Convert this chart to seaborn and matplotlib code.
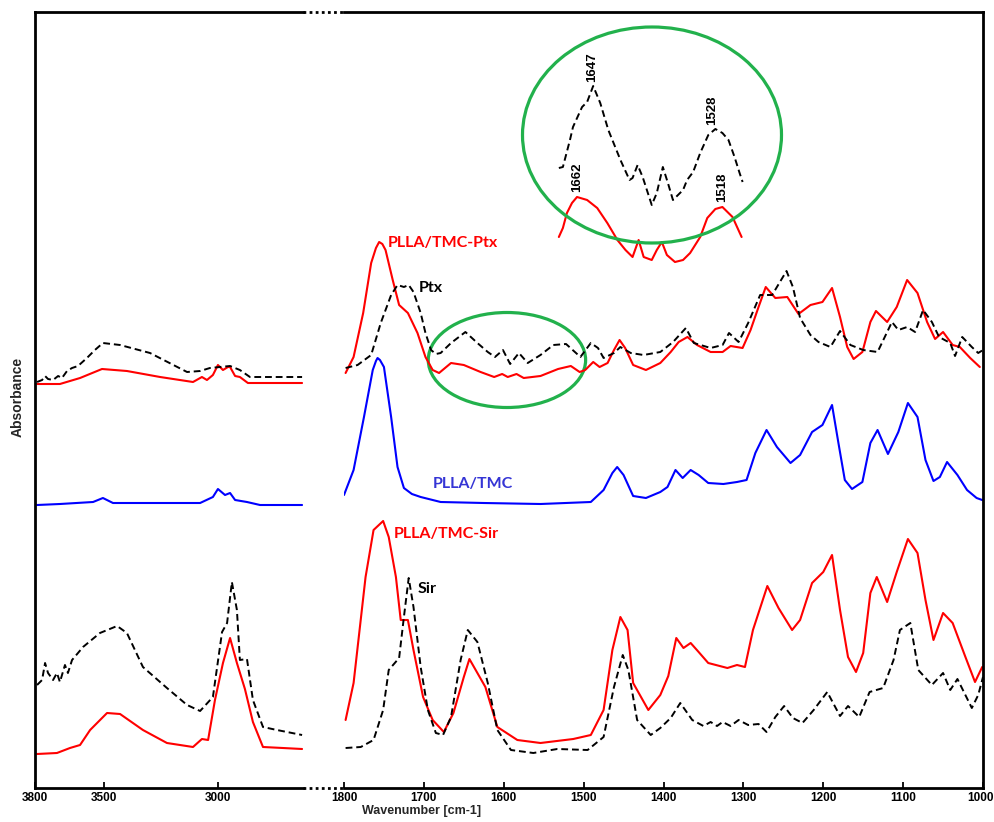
import numpy as np
import pandas as pd
import matplotlib
matplotlib.use("Agg")
import matplotlib.pyplot as plt
import matplotlib.patches as mpatches
import matplotlib.transforms as mtransforms
from matplotlib.lines import Line2D
import seaborn as sns

# ---- high wavenumber region (left panel) ----
ptx_hi_x = [3791, 3769, 3756, 3743, 3721, 3699, 3682, 3660, 3638, 3612, 3573, 3538, 3503, 3428,
            3297, 3135, 3078, 3035, 2991, 2947, 2904, 2860, 2632]
ptx_hi_y = [4.06, 4.08, 4.12, 4.09, 4.08, 4.12, 4.10, 4.17, 4.20, 4.22, 4.30, 4.38, 4.45, 4.43,
            4.35, 4.16, 4.17, 4.20, 4.21, 4.22, 4.18, 4.11, 4.11]
tmc_ptx_hi_x = [3791, 3691, 3603, 3507, 3398, 3253, 3109, 3070, 3048, 3022, 3000, 2978, 2956,
                2947, 2925, 2904, 2869, 2632]
tmc_ptx_hi_y = [4.04, 4.04, 4.10, 4.19, 4.17, 4.11, 4.06, 4.11, 4.08, 4.13, 4.23, 4.18, 4.21,
                4.21, 4.12, 4.11, 4.05, 4.05]
tmc_hi_x = [3791, 3691, 3546, 3503, 3459, 3078, 3022, 3000, 2969, 2947, 2925, 2873, 2816, 2632]
tmc_hi_y = [2.83, 2.84, 2.86, 2.90, 2.85, 2.85, 2.91, 2.99, 2.93, 2.95, 2.88, 2.86, 2.83, 2.83]
sir_hi_x = [3791, 3769, 3756, 3743, 3721, 3704, 3691, 3669, 3656, 3638, 3612, 3590, 3516, 3441,
            3398, 3328, 3223, 3135, 3078, 3022, 2982, 2960, 2939, 2917, 2904, 2873, 2847, 2803,
            2742, 2632]
sir_hi_y = [1.03, 1.08, 1.25, 1.15, 1.08, 1.15, 1.06, 1.23, 1.15, 1.28, 1.35, 1.41, 1.55, 1.62,
            1.55, 1.21, 1.00, 0.83, 0.77, 0.91, 1.56, 1.65, 2.06, 1.78, 1.28, 1.29, 0.88, 0.61,
            0.58, 0.53]
tmc_sir_hi_x = [3791, 3704, 3647, 3603, 3559, 3485, 3428, 3328, 3223, 3109, 3070, 3043, 3013,
                2978, 2947, 2917, 2882, 2847, 2803, 2716, 2632]
tmc_sir_hi_y = [0.34, 0.35, 0.40, 0.43, 0.58, 0.75, 0.74, 0.58, 0.45, 0.41, 0.49, 0.48, 0.88,
                1.25, 1.50, 1.25, 0.99, 0.66, 0.41, 0.40, 0.39]

# ---- fingerprint region (right panel) ----
tmc_ptx_x = [1798, 1788, 1776, 1766, 1760, 1756, 1752, 1748, 1739, 1731, 1720, 1708, 1698, 1689,
             1681, 1666, 1650, 1629, 1612, 1602, 1595, 1584, 1575, 1554, 1532, 1516, 1505, 1498,
             1488, 1480, 1470, 1462, 1455, 1448, 1438, 1422, 1404, 1391, 1381, 1370, 1358, 1341,
             1326, 1316, 1301, 1291, 1281, 1272, 1260, 1245, 1231, 1216, 1201, 1189, 1179, 1170,
             1162, 1151, 1141, 1134, 1120, 1108, 1095, 1082, 1070, 1060, 1050, 1038, 1029, 1016,
             1004]
tmc_ptx_y = [4.15, 4.31, 4.75, 5.25, 5.40, 5.46, 5.44, 5.38, 5.08, 4.83, 4.75, 4.55, 4.31, 4.18,
             4.15, 4.25, 4.23, 4.16, 4.11, 4.14, 4.11, 4.14, 4.10, 4.12, 4.19, 4.22, 4.16, 4.18,
             4.26, 4.21, 4.25, 4.38, 4.48, 4.40, 4.23, 4.18, 4.25, 4.36, 4.46, 4.51, 4.43, 4.36,
             4.36, 4.42, 4.40, 4.58, 4.81, 5.01, 4.90, 4.91, 4.74, 4.83, 4.86, 5.00, 4.71, 4.41,
             4.29, 4.36, 4.66, 4.77, 4.66, 4.81, 5.08, 4.95, 4.66, 4.49, 4.56, 4.43, 4.41, 4.30,
             4.21]
ptx_x = [1798, 1783, 1766, 1754, 1741, 1733, 1725, 1719, 1713, 1704, 1698, 1691, 1685, 1679,
         1666, 1648, 1633, 1620, 1611, 1601, 1592, 1581, 1570, 1554, 1538, 1522, 1504, 1491,
         1482, 1475, 1462, 1454, 1441, 1425, 1404, 1388, 1372, 1362, 1341, 1326, 1318, 1306,
         1294, 1279, 1264, 1246, 1238, 1229, 1216, 1206, 1191, 1179, 1166, 1150, 1132, 1114,
         1106, 1095, 1085, 1075, 1064, 1055, 1041, 1035, 1026, 1014, 1006, 1000]
ptx_y = [4.20, 4.23, 4.33, 4.65, 4.93, 5.03, 5.01, 5.03, 4.96, 4.75, 4.55, 4.38, 4.34, 4.35,
         4.45, 4.56, 4.45, 4.36, 4.31, 4.38, 4.24, 4.35, 4.25, 4.33, 4.43, 4.44, 4.31, 4.45,
         4.40, 4.30, 4.35, 4.41, 4.35, 4.33, 4.36, 4.46, 4.60, 4.45, 4.40, 4.43, 4.55, 4.46,
         4.65, 4.93, 4.93, 5.17, 5.01, 4.70, 4.53, 4.46, 4.41, 4.57, 4.43, 4.38, 4.36, 4.66,
         4.58, 4.61, 4.56, 4.78, 4.66, 4.51, 4.45, 4.32, 4.51, 4.41, 4.35, 4.38]
tmc_x = [1800, 1788, 1775, 1764, 1760, 1758, 1755, 1750, 1741, 1733, 1725, 1715, 1704, 1679,
         1625, 1554, 1491, 1475, 1464, 1458, 1450, 1438, 1422, 1404, 1395, 1385, 1376, 1366,
         1356, 1344, 1325, 1308, 1296, 1285, 1271, 1258, 1241, 1229, 1214, 1201, 1189, 1181,
         1173, 1164, 1151, 1141, 1132, 1119, 1106, 1094, 1082, 1072, 1062, 1054, 1045, 1032,
         1020, 1008, 1001]
tmc_y = [2.93, 3.18, 3.71, 4.18, 4.27, 4.30, 4.28, 4.21, 3.71, 3.21, 3.00, 2.94, 2.91, 2.86,
         2.85, 2.84, 2.86, 2.98, 3.15, 3.21, 3.13, 2.92, 2.90, 2.96, 3.01, 3.18, 3.10, 3.18,
         3.13, 3.05, 3.04, 3.06, 3.08, 3.35, 3.58, 3.41, 3.25, 3.33, 3.56, 3.63, 3.83, 3.45,
         3.08, 2.99, 3.06, 3.45, 3.58, 3.34, 3.56, 3.85, 3.71, 3.28, 3.07, 3.11, 3.26, 3.13,
         2.98, 2.90, 2.88]
tmc_sir_x = [1798, 1788, 1773, 1763, 1751, 1744, 1735, 1729, 1720, 1713, 1701, 1689, 1675, 1663,
             1650, 1643, 1633, 1623, 1608, 1583, 1554, 1513, 1491, 1475, 1464, 1454, 1445, 1438,
             1419, 1404, 1394, 1384, 1375, 1366, 1356, 1344, 1320, 1308, 1298, 1288, 1270, 1256,
             1239, 1229, 1214, 1200, 1189, 1179, 1169, 1159, 1150, 1141, 1133, 1120, 1108, 1094,
             1082, 1072, 1062, 1050, 1038, 1022, 1010, 1001]
tmc_sir_y = [0.68, 1.05, 2.11, 2.58, 2.67, 2.51, 2.11, 1.68, 1.68, 1.38, 0.91, 0.68, 0.56, 0.75,
             1.11, 1.29, 1.15, 1.01, 0.61, 0.48, 0.45, 0.49, 0.53, 0.78, 1.38, 1.71, 1.58, 1.05,
             0.78, 0.93, 1.12, 1.50, 1.40, 1.45, 1.36, 1.25, 1.20, 1.23, 1.21, 1.58, 2.02, 1.80,
             1.58, 1.68, 2.05, 2.16, 2.33, 1.78, 1.31, 1.16, 1.35, 1.95, 2.11, 1.86, 2.16, 2.49,
             2.35, 1.88, 1.48, 1.75, 1.65, 1.31, 1.06, 1.21]
sir_x = [1798, 1779, 1763, 1751, 1744, 1731, 1725, 1719, 1713, 1704, 1695, 1685, 1676, 1666,
         1654, 1645, 1633, 1620, 1608, 1591, 1563, 1533, 1495, 1475, 1462, 1451, 1444, 1433,
         1416, 1404, 1391, 1379, 1364, 1350, 1341, 1333, 1326, 1316, 1306, 1294, 1281, 1271,
         1260, 1249, 1238, 1226, 1212, 1195, 1179, 1169, 1155, 1142, 1125, 1112, 1104, 1091,
         1081, 1064, 1050, 1041, 1032, 1014, 1006, 1000]
sir_y = [0.40, 0.41, 0.48, 0.78, 1.18, 1.30, 1.71, 2.10, 1.81, 1.21, 0.78, 0.55, 0.53, 0.71,
         1.28, 1.58, 1.46, 1.05, 0.58, 0.38, 0.35, 0.39, 0.38, 0.51, 1.01, 1.33, 1.18, 0.68,
         0.53, 0.60, 0.70, 0.85, 0.68, 0.62, 0.66, 0.62, 0.66, 0.62, 0.68, 0.63, 0.64, 0.56,
         0.71, 0.82, 0.70, 0.65, 0.78, 0.96, 0.72, 0.82, 0.71, 0.96, 1.00, 1.28, 1.58, 1.65,
         1.18, 1.03, 1.15, 0.98, 1.09, 0.80, 0.93, 1.11]

# ---- zoomed inset (1680-1500 cm-1) ----
zoom_ptx_x = [1680, 1676, 1669, 1666, 1657, 1652, 1646, 1639, 1631, 1619, 1610, 1607, 1602, 1597,
              1588, 1583, 1577, 1572, 1567, 1557, 1553, 1547, 1540, 1532, 1525, 1518, 1512, 1506,
              1501, 1498]
zoom_ptx_y = [1.02, 1.03, 1.30, 1.43, 1.63, 1.68, 1.84, 1.67, 1.40, 1.10, 0.90, 0.92, 1.05, 0.93,
              0.65, 0.77, 1.03, 0.87, 0.70, 0.80, 0.90, 0.98, 1.17, 1.35, 1.41, 1.37, 1.30, 1.13,
              0.97, 0.88]
zoom_tmc_ptx_x = [1680, 1676, 1672, 1667, 1662, 1652, 1642, 1632, 1622, 1614, 1607, 1601, 1596,
                  1588, 1583, 1578, 1573, 1565, 1557, 1550, 1540, 1533, 1525, 1518, 1508, 1499]
zoom_tmc_ptx_y = [0.33, 0.42, 0.57, 0.67, 0.73, 0.70, 0.62, 0.47, 0.30, 0.20, 0.13, 0.30, 0.13,
                  0.10, 0.20, 0.28, 0.15, 0.08, 0.10, 0.17, 0.33, 0.52, 0.61, 0.63, 0.53, 0.33]
zoom_peaks = [1647, 1528, 1662, 1518]

RED = "#ff0000"
BLUE = "#0000ff"
GREEN = "#22b14c"

sns.set_theme(style="white")
plt.rcParams['font.family'] = ['Liberation Sans', 'DejaVu Sans']

W, H = 995, 822
fig = plt.figure(figsize=(W / 100, H / 100), dpi=100)


def fx(px):
    return px / W


def fy(py):
    return 1 - py / H


top_px, bot_px = 12, 788
ax1 = fig.add_axes([fx(35), fy(bot_px), fx(303 - 35), (bot_px - top_px) / H])
ax2 = fig.add_axes([fx(344), fy(bot_px), fx(983 - 344), (bot_px - top_px) / H])

solid = dict(linewidth=1.5)
dashed = dict(linewidth=1.4, dashes=(3.5, 2))


def draw(ax, x, y, color, dash=False):
    df = pd.DataFrame({"wn": x, "a": y})
    kw = dashed if dash else solid
    sns.lineplot(data=df, x="wn", y="a", ax=ax, color=color, sort=False, legend=False, **kw)


draw(ax1, tmc_ptx_hi_x, tmc_ptx_hi_y, RED)
draw(ax1, ptx_hi_x, ptx_hi_y, "black", dash=True)
draw(ax1, tmc_hi_x, tmc_hi_y, BLUE)
draw(ax1, tmc_sir_hi_x, tmc_sir_hi_y, RED)
draw(ax1, sir_hi_x, sir_hi_y, "black", dash=True)

draw(ax2, tmc_ptx_x, tmc_ptx_y, RED)
draw(ax2, ptx_x, ptx_y, "black", dash=True)
draw(ax2, tmc_x, tmc_y, BLUE)
draw(ax2, tmc_sir_x, tmc_sir_y, RED)
draw(ax2, sir_x, sir_y, "black", dash=True)

ax1.set_xlim(3800, 2628)
ax2.set_xlim(1800, 1000)
ax1.set_xticks([3800, 3500, 3000])
ax2.set_xticks([1800, 1700, 1600, 1500, 1400, 1300, 1200, 1100, 1000])
for ax in (ax1, ax2):
    ax.set_ylim(0, 7.76)
    ax.set_yticks([])
    ax.set_xlabel("")
    ax.set_ylabel("")
    ax.tick_params(axis="x", direction="in", length=4.5, width=1.3, pad=3,
                   bottom=True, labelsize=8.5, colors="black")
    for lab in ax.get_xticklabels():
        lab.set_fontweight("bold")
    for sp in ax.spines.values():
        sp.set_linewidth(2)
        sp.set_color("black")
ax1.spines["right"].set_visible(False)
ax2.spines["left"].set_visible(False)

# keep the last tick label inside the canvas
last = ax2.get_xticklabels()[-1]
last.set_transform(last.get_transform() +
                   mtransforms.ScaledTranslation(-2 / 100, 0, fig.dpi_scale_trans))

# broken-axis dotted connectors
for py in (top_px, bot_px):
    fig.add_artist(Line2D([fx(303), fx(344)], [fy(py), fy(py)], color="black",
                          linewidth=2, linestyle=(0, (1, 1.2))))

# green highlight ellipse on the main plot
ax2.add_patch(mpatches.Ellipse((1596, 4.28), 197, 0.95, fill=False, edgecolor=GREEN,
                               linewidth=2.3))

# inset with magnified region
fig.add_artist(mpatches.Ellipse((fx(652), fy(135)), 259 / W, 216 / H, fill=False,
                                edgecolor=GREEN, linewidth=2.3, transform=fig.transFigure))
axi = fig.add_axes([fx(523), fy(270), fx(782 - 523), 243 / H])
axi.set_axis_off()
axi.patch.set_alpha(0)
draw(axi, zoom_tmc_ptx_x, zoom_tmc_ptx_y, RED)
draw(axi, zoom_ptx_x, zoom_ptx_y, "black", dash=True)
axi.set_xlim(1715.5, 1459)
axi.set_ylim(0, 2.43)
peak_y = [1.88, 1.45, 0.78, 0.68]
for wn, yy in zip(zoom_peaks, peak_y):
    axi.text(wn, yy, str(wn), rotation=90, ha="center", va="bottom", fontsize=9.5,
             fontweight="bold", color="black")

# series labels
lab_font = ['Lato', 'DejaVu Sans']
ax2.text(1745, 5.45, "PLLA/TMC-Ptx", color=RED, fontsize=11.5, fontweight="bold",
         ha="left", va="center", family=lab_font)
ax2.text(1706, 5.00, "Ptx", color="black", fontsize=11.5, fontweight="bold",
         ha="left", va="center", family=lab_font)
ax2.text(1689, 3.04, "PLLA/TMC", color="#3535d5", fontsize=11.5, fontweight="bold",
         ha="left", va="center", family=lab_font)
ax2.text(1738, 2.54, "PLLA/TMC-Sir", color=RED, fontsize=11.5, fontweight="bold",
         ha="left", va="center", family=lab_font)
ax2.text(1708, 1.99, "Sir", color="black", fontsize=11.5, fontweight="bold",
         ha="left", va="center", family=lab_font)

fig.text(fx(18), fy(397), "Absorbance", rotation=90, ha="center", va="center",
         fontsize=10, fontweight="bold")
fig.text(fx(422), fy(811), "Wavenumber [cm-1]", ha="center", va="center",
         fontsize=9, fontweight="bold")

fig.savefig("out.png", dpi=100)
